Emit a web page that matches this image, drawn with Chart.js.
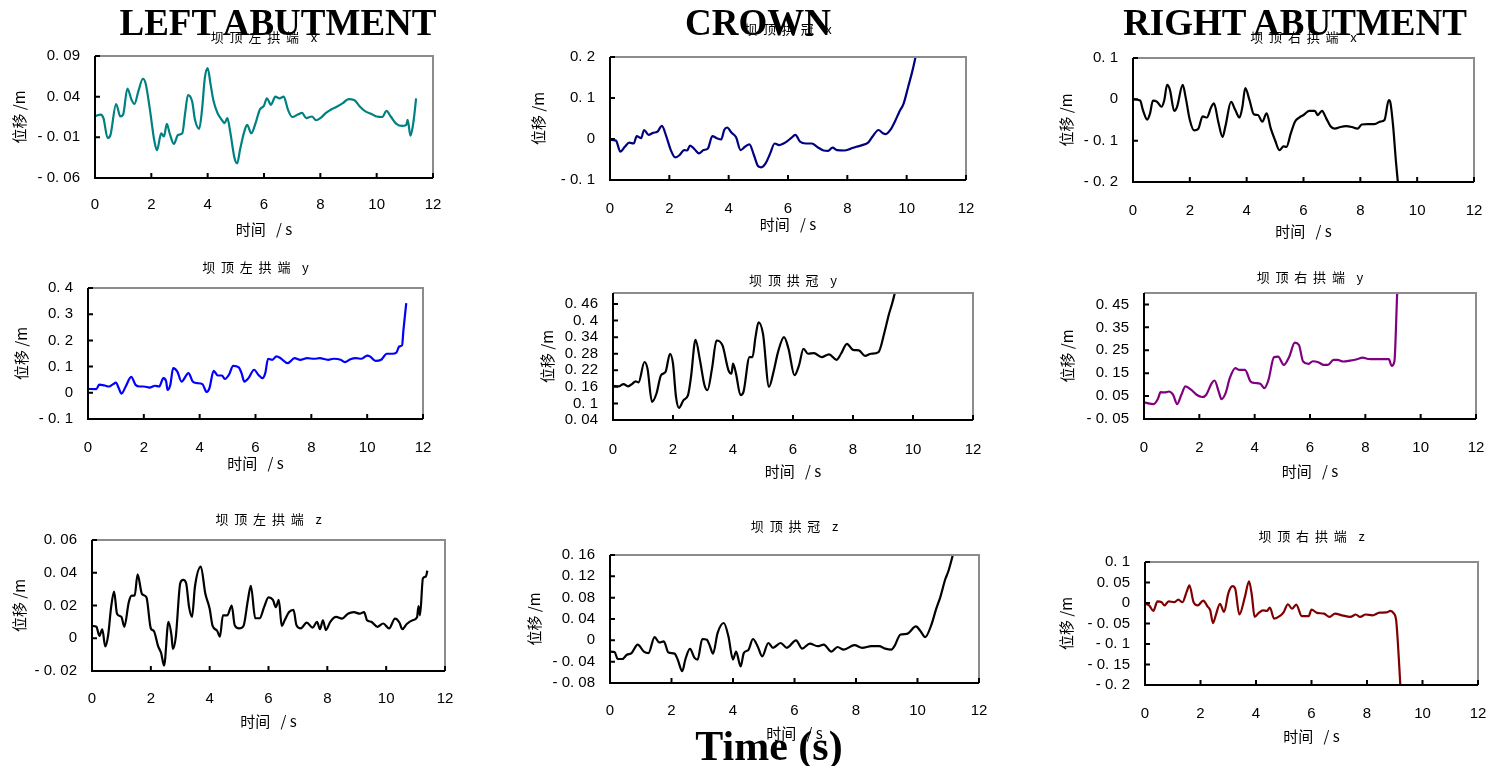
<!DOCTYPE html>
<html>
<head>
<meta charset="utf-8">
<script src="https://cdn.jsdelivr.net/npm/chart.js@4/dist/chart.umd.min.js"></script>
<style>
  html, body { margin: 0; padding: 0; background: #fff; }
  #stage { position: relative; width: 1488px; height: 766px; overflow: hidden; }
  #stage canvas { position: absolute; }
  .head {
    position: absolute; width: 500px; text-align: center; white-space: nowrap;
    font-family: "Liberation Serif", "Times New Roman", serif; font-weight: bold;
    font-size: 37px; line-height: 37px; color: #000; z-index: 5;
  }
</style>
</head>
<body>
<div id="stage">
  <div class="head" style="left:28px; top:4px;">LEFT ABUTMENT</div>
  <div class="head" style="left:508px; top:4px;">CROWN</div>
  <div class="head" style="left:1045px; top:4px;">RIGHT ABUTMENT</div>
  <div class="head" style="left:519px; top:725px; font-size:42px; line-height:42px;">Time (s)</div>
</div>
<script>
// ---- data (time in s, displacement in m) ----
const timeTicks = [0, 2, 4, 6, 8, 10, 12];

// left abutment x
const laXTime = [0,0.2,0.3,0.45,0.55,0.75,0.9,1.0,1.15,1.3,1.4,1.55,1.7,1.8,1.95,2.1,2.2,2.35,2.45,2.55,2.65,2.8,2.95,3.1,3.2,3.3,3.45,3.55,3.7,3.8,3.9,4.0,4.1,4.2,4.35,4.5,4.6,4.7,4.8,4.95,5.05,5.15,5.3,5.4,5.55,5.7,5.85,6.0,6.1,6.25,6.4,6.55,6.7,6.85,7.0,7.2,7.35,7.5,7.7,7.85,8.0,8.2,8.4,8.6,8.8,9.0,9.2,9.4,9.6,9.8,10.0,10.2,10.35,10.5,10.7,10.9,11.05,11.1,11.2,11.3,11.4];
const laXDisp = [0.016,0.018,0.0135,-0.011,-0.007,0.031,0.0156,0.018,0.050,0.036,0.031,0.048,0.062,0.056,0.024,-0.013,-0.026,-0.005,-0.009,0.0066,-0.005,-0.018,-0.007,-0.005,0.0197,0.042,0.034,0.0115,0.0005,0.024,0.063,0.075,0.056,0.036,0.0197,0.0115,0.0075,0.0136,-0.003,-0.035,-0.042,-0.025,-0.003,0.0054,-0.005,0.0075,0.024,0.029,0.038,0.030,0.040,0.038,0.040,0.024,0.015,0.018,0.020,0.0136,0.0156,0.011,0.0136,0.020,0.0246,0.028,0.032,0.037,0.036,0.028,0.022,0.019,0.0156,0.015,0.0226,0.0156,0.0066,0.004,0.0054,0.0115,-0.008,0.0075,0.038];
const laXTicks = [-0.06, -0.01, 0.04, 0.09];

// crown x
const crXTime = [0,0.2,0.35,0.5,0.65,0.8,0.9,1.05,1.15,1.3,1.45,1.6,1.75,1.9,2.05,2.2,2.35,2.5,2.6,2.7,2.85,3.0,3.15,3.3,3.45,3.6,3.75,3.85,3.95,4.1,4.25,4.4,4.55,4.7,4.85,5.0,5.1,5.25,5.4,5.55,5.7,5.85,6.0,6.1,6.25,6.4,6.6,6.8,7.0,7.2,7.35,7.5,7.65,7.9,8.1,8.3,8.5,8.7,8.85,9.05,9.2,9.3,9.45,9.6,9.75,9.9,10.05,10.2,10.3];
const crXDisp = [-0.002,-0.004,-0.031,-0.019,-0.009,-0.011,0.007,0.002,0.022,0.010,0.015,0.018,0.032,0.006,-0.027,-0.045,-0.039,-0.027,-0.028,-0.016,-0.025,-0.035,-0.027,-0.023,0.007,0.002,-0.001,0.022,0.028,0.015,0.004,-0.027,-0.019,-0.013,-0.039,-0.067,-0.069,-0.059,-0.035,-0.011,-0.015,-0.011,-0.004,0.002,0.010,-0.006,-0.011,-0.011,-0.020,-0.028,-0.029,-0.021,-0.027,-0.028,-0.024,-0.019,-0.015,-0.009,0.006,0.022,0.014,0.012,0.022,0.042,0.066,0.087,0.127,0.168,0.200];
const crXTicks = [-0.1, 0, 0.1, 0.2];

// right abutment x
const raXTime = [0,0.25,0.35,0.5,0.6,0.7,0.85,1.0,1.1,1.2,1.3,1.45,1.55,1.75,1.85,2.0,2.15,2.3,2.45,2.6,2.75,2.85,3.0,3.15,3.25,3.45,3.6,3.75,3.85,3.95,4.1,4.25,4.4,4.55,4.7,4.85,5.0,5.15,5.3,5.4,5.55,5.7,5.85,6.0,6.2,6.4,6.5,6.65,6.8,6.95,7.1,7.3,7.5,7.7,7.9,8.05,8.25,8.5,8.7,8.85,9.0,9.05,9.15,9.25,9.32];
const raXDisp = [0,-0.003,-0.026,-0.049,-0.034,-0.003,-0.006,-0.018,-0.002,0.035,0.023,-0.028,-0.018,0.035,0.006,-0.050,-0.075,-0.071,-0.041,-0.044,-0.019,-0.010,-0.054,-0.091,-0.066,-0.006,-0.026,-0.044,-0.018,0.027,-0.002,-0.036,-0.038,-0.054,-0.034,-0.071,-0.099,-0.123,-0.114,-0.115,-0.083,-0.054,-0.044,-0.038,-0.028,-0.028,-0.038,-0.028,-0.046,-0.065,-0.071,-0.067,-0.065,-0.067,-0.071,-0.061,-0.060,-0.060,-0.054,-0.050,-0.002,-0.006,-0.062,-0.148,-0.200];
const raXTicks = [-0.2, -0.1, 0, 0.1];

// left abutment y
const laYTime = [0,0.3,0.4,0.6,0.75,0.9,1.0,1.1,1.2,1.35,1.55,1.7,1.85,2.0,2.2,2.4,2.55,2.7,2.8,2.85,2.95,3.05,3.2,3.35,3.6,3.75,3.9,4.1,4.25,4.35,4.5,4.65,4.8,4.9,5.05,5.2,5.4,5.5,5.6,5.75,5.95,6.1,6.25,6.35,6.45,6.6,6.75,6.9,7.15,7.4,7.6,7.85,8.1,8.3,8.6,8.8,9.05,9.2,9.4,9.6,9.8,10.0,10.1,10.3,10.5,10.7,10.9,11.05,11.15,11.25,11.3,11.4];
const laYDisp = [0.015,0.014,0.031,0.028,0.024,0.033,0.039,0.018,-0.003,0.024,0.061,0.031,0.024,0.024,0.020,0.027,0.024,0.056,0.043,0.011,0.031,0.094,0.081,0.043,0.075,0.043,0.037,0.033,0.003,0.018,0.084,0.066,0.066,0.053,0.069,0.103,0.097,0.075,0.043,0.056,0.088,0.069,0.056,0.075,0.130,0.126,0.139,0.132,0.113,0.132,0.126,0.132,0.130,0.132,0.126,0.130,0.126,0.117,0.128,0.132,0.130,0.142,0.139,0.122,0.126,0.149,0.149,0.154,0.177,0.181,0.240,0.342];
const laYTicks = [-0.1, 0, 0.1, 0.2, 0.3, 0.4];

// crown y
const crYTime = [0,0.2,0.35,0.5,0.65,0.75,0.85,1.05,1.15,1.3,1.45,1.6,1.75,1.9,2.0,2.1,2.2,2.35,2.5,2.6,2.75,2.9,3.05,3.15,3.3,3.45,3.65,3.85,3.95,4.0,4.1,4.25,4.35,4.55,4.65,4.75,4.85,5.0,5.2,5.35,5.5,5.7,5.85,6.05,6.2,6.35,6.5,6.7,6.95,7.2,7.45,7.6,7.8,8.0,8.2,8.4,8.6,8.85,9.05,9.2,9.3,9.4];
const crYDisp = [0.164,0.162,0.170,0.162,0.172,0.180,0.176,0.250,0.226,0.106,0.136,0.202,0.214,0.280,0.244,0.124,0.084,0.112,0.130,0.196,0.330,0.256,0.166,0.148,0.226,0.328,0.310,0.220,0.208,0.244,0.208,0.130,0.142,0.268,0.268,0.340,0.394,0.352,0.160,0.214,0.286,0.340,0.298,0.202,0.238,0.298,0.280,0.282,0.268,0.278,0.258,0.280,0.316,0.294,0.292,0.272,0.280,0.286,0.358,0.424,0.46,0.502];
const crYTicks = [0.04, 0.1, 0.16, 0.22, 0.28, 0.34, 0.4, 0.46];

// right abutment y
const raYTime = [0,0.35,0.5,0.6,0.75,0.9,1.05,1.2,1.35,1.5,1.7,1.9,2.1,2.25,2.45,2.55,2.7,2.8,2.95,3.1,3.3,3.45,3.65,3.85,4.0,4.2,4.35,4.5,4.7,4.85,5.05,5.25,5.45,5.6,5.75,5.95,6.1,6.3,6.5,6.65,6.85,7.0,7.2,7.45,7.7,7.9,8.1,8.4,8.7,8.85,8.95,9.05,9.15];
const raYDisp = [0.0225,0.015,0.037,0.067,0.066,0.070,0.056,0.015,0.056,0.092,0.078,0.056,0.046,0.056,0.107,0.118,0.070,0.037,0.063,0.128,0.172,0.164,0.164,0.114,0.107,0.104,0.085,0.121,0.220,0.222,0.186,0.222,0.283,0.273,0.201,0.191,0.202,0.198,0.186,0.186,0.208,0.208,0.201,0.205,0.211,0.218,0.212,0.211,0.211,0.211,0.182,0.201,0.498];
const raYTicks = [-0.05, 0.05, 0.15, 0.25, 0.35, 0.45];

// left abutment z
const laZTime = [0,0.15,0.25,0.35,0.45,0.55,0.65,0.75,0.85,1.0,1.1,1.25,1.35,1.45,1.55,1.7,1.85,2.0,2.1,2.25,2.35,2.45,2.6,2.7,2.75,2.85,3.0,3.1,3.2,3.3,3.4,3.5,3.7,3.85,4.0,4.1,4.25,4.35,4.45,4.6,4.75,4.85,5.0,5.15,5.3,5.4,5.55,5.7,5.85,6.0,6.15,6.25,6.35,6.45,6.55,6.7,6.85,6.95,7.1,7.3,7.5,7.65,7.75,7.85,7.95,8.1,8.3,8.5,8.7,8.9,9.1,9.25,9.35,9.5,9.7,9.9,10.1,10.3,10.45,10.55,10.7,10.9,11.05,11.1,11.15,11.25,11.35,11.4];
const laZDisp = [0.0075,0.007,0.0014,0.0055,-0.005,0.002,0.019,0.0285,0.015,0.013,0.007,0.022,0.026,0.026,0.039,0.027,0.025,0.006,0.0045,-0.005,-0.009,-0.0167,0.010,0.002,-0.0065,0.001,0.0336,0.0356,0.0336,0.019,0.013,0.0316,0.0438,0.0275,0.018,0.0075,0.0047,0.001,0.014,0.014,0.020,0.008,0.006,0.0075,0.0234,0.032,0.0122,0.0122,0.019,0.025,0.0234,0.019,0.0234,0.0075,0.011,0.016,0.0173,0.008,0.006,0.0096,0.0065,0.010,0.0055,0.011,0.005,0.010,0.013,0.012,0.015,0.016,0.015,0.016,0.011,0.010,0.007,0.009,0.006,0.012,0.0096,0.0055,0.0087,0.011,0.0128,0.0197,0.014,0.0366,0.0377,0.0413];
const laZTicks = [-0.02, 0, 0.02, 0.04, 0.06];

// crown z
const crZTime = [0,0.15,0.25,0.4,0.55,0.7,0.9,1.1,1.25,1.45,1.6,1.75,1.9,2.1,2.2,2.35,2.45,2.6,2.75,2.85,3.0,3.15,3.25,3.35,3.5,3.7,3.85,4.0,4.1,4.25,4.35,4.5,4.65,4.8,4.95,5.15,5.3,5.55,5.75,6.05,6.25,6.5,6.75,6.95,7.2,7.4,7.6,7.95,8.2,8.5,8.75,8.95,9.15,9.25,9.45,9.65,9.95,10.1,10.25,10.45,10.6,10.75,10.9,11.0,11.15];
const crZDisp = [-0.021,-0.022,-0.035,-0.035,-0.027,-0.024,-0.008,-0.021,-0.024,0.006,-0.004,-0.002,-0.023,-0.025,-0.036,-0.058,-0.036,-0.016,-0.033,-0.036,0.0025,0.001,-0.011,-0.025,0.014,0.0325,0.0075,-0.036,-0.021,-0.049,-0.024,-0.018,0.0025,-0.011,-0.030,-0.005,-0.014,-0.005,-0.014,0,-0.0156,-0.006,-0.011,-0.008,-0.021,-0.0125,-0.0175,-0.009,-0.014,-0.011,-0.011,-0.0156,-0.0175,-0.011,0.011,0.012,0.026,0.017,0.006,0.029,0.0575,0.0825,0.114,0.129,0.16];
const crZTicks = [-0.08, -0.04, 0, 0.04, 0.08, 0.12, 0.16];

// right abutment z
const raZTime = [0,0.15,0.3,0.45,0.6,0.7,0.85,1.05,1.2,1.35,1.5,1.6,1.75,1.9,2.1,2.25,2.35,2.45,2.55,2.7,2.85,3.0,3.15,3.25,3.4,3.6,3.75,3.85,3.95,4.1,4.25,4.4,4.5,4.65,4.85,5.0,5.15,5.3,5.45,5.65,5.9,6.0,6.2,6.45,6.65,6.85,7.1,7.4,7.6,7.75,7.95,8.2,8.45,8.7,8.85,8.95,9.05,9.15,9.2];
const raZDisp = [-0.002,-0.006,-0.019,0.004,0.002,-0.006,0.004,0.002,0.008,0.002,0.027,0.043,0.002,-0.006,0.006,-0.008,-0.018,-0.049,-0.030,-0.002,-0.022,0.023,0.041,0.035,-0.028,0.015,0.053,0.019,-0.034,-0.024,-0.018,-0.019,-0.011,-0.038,-0.032,-0.022,-0.003,-0.014,-0.004,-0.032,-0.032,-0.016,-0.024,-0.026,-0.034,-0.026,-0.030,-0.034,-0.028,-0.034,-0.028,-0.030,-0.0235,-0.023,-0.019,-0.024,-0.042,-0.139,-0.200];
const raZTicks = [-0.2, -0.15, -0.1, -0.05, 0, 0.05, 0.1];

// ---- panels ----
const CJK = '"Noto Sans CJK SC", "Noto Sans", sans-serif';
const NUM = '"Liberation Sans", Arial, sans-serif';

const panels = [
  { title: '坝  顶  左  拱  端    x', time: laXTime, disp: laXDisp, yTicks: laXTicks, yMax: 0.09, color: '#008080',
    plot: [95, 56, 433, 178], titleY: 37, tickY: 203, xTitleY: 229, yTitleX: 19 },
  { title: '坝  顶  拱  冠    x', time: crXTime, disp: crXDisp, yTicks: crXTicks, yMax: 0.2, color: '#000080',
    plot: [610, 57, 966, 180], titleY: 29, tickY: 207, xTitleY: 224, yTitleX: 538 },
  { title: '坝  顶  右  拱  端    x', time: raXTime, disp: raXDisp, yTicks: raXTicks, yMax: 0.1, color: '#000000',
    plot: [1133, 58, 1474, 182], titleY: 37, tickY: 209, xTitleY: 231, yTitleX: 1066 },
  { title: '坝  顶  左  拱  端    y', time: laYTime, disp: laYDisp, yTicks: laYTicks, yMax: 0.4, color: '#0000ff',
    plot: [88, 288, 423, 419], titleY: 267, tickY: 446, xTitleY: 463, yTitleX: 21 },
  { title: '坝  顶  拱  冠    y', time: crYTime, disp: crYDisp, yTicks: crYTicks, yMax: 0.5, color: '#000000',
    plot: [613, 292, 973, 420], titleY: 279, tickY: 448, xTitleY: 471, yTitleX: 547 },
  { title: '坝  顶  右  拱  端    y', time: raYTime, disp: raYDisp, yTicks: raYTicks, yMax: 0.5, color: '#800080',
    plot: [1144, 293, 1476, 419], titleY: 277, tickY: 446, xTitleY: 471, yTitleX: 1067 },
  { title: '坝  顶  左  拱  端    z', time: laZTime, disp: laZDisp, yTicks: laZTicks, yMax: 0.06, color: '#000000',
    plot: [92, 540, 445, 671], titleY: 519, tickY: 697, xTitleY: 721, yTitleX: 19 },
  { title: '坝  顶  拱  冠    z', time: crZTime, disp: crZDisp, yTicks: crZTicks, yMax: 0.16, color: '#000000',
    plot: [610, 555, 979, 683], titleY: 526, tickY: 709, xTitleY: 733, yTitleX: 534 },
  { title: '坝  顶  右  拱  端    z', time: raZTime, disp: raZDisp, yTicks: raZTicks, yMax: 0.1, color: '#800000',
    plot: [1145, 562, 1478, 685], titleY: 536, tickY: 712, xTitleY: 736, yTitleX: 1066 },
];

// "0. 09" / "- 0. 06" style labels like the original
function fmtTick(v) {
  return String(v).replace('-', '- ').replace('.', '. ');
}

// gray top/right frame, black left/bottom axes, ticks pointing inward
const framePlugin = {
  id: 'frame',
  afterDatasetsDraw(chart) {
    const { ctx, chartArea: a, scales } = chart;
    ctx.save();
    ctx.lineWidth = 2;
    ctx.strokeStyle = '#8c8c8c';
    ctx.beginPath();
    ctx.moveTo(a.left, a.top);
    ctx.lineTo(a.right, a.top);
    ctx.lineTo(a.right, a.bottom);
    ctx.stroke();
    ctx.strokeStyle = '#000';
    ctx.beginPath();
    ctx.moveTo(a.left, a.top);
    ctx.lineTo(a.left, a.bottom);
    ctx.lineTo(a.right, a.bottom);
    scales.x.ticks.forEach(t => {
      const px = scales.x.getPixelForValue(t.value);
      ctx.moveTo(px, a.bottom);
      ctx.lineTo(px, a.bottom - 5);
    });
    scales.y.ticks.forEach(t => {
      const py = scales.y.getPixelForValue(t.value);
      ctx.moveTo(a.left, py);
      ctx.lineTo(a.left + 5, py);
    });
    ctx.stroke();
    ctx.restore();
  }
};

const stage = document.getElementById('stage');
const RIGHT_PAD = 40; // larger than the x scale's own label overflow

function buildPanel(p) {
  const [l, t, r, b] = p.plot;
  const cl = Math.round(p.yTitleX - 10);
  const ct = Math.round(p.titleY - 10);
  const cr = r + RIGHT_PAD;
  const cb = Math.round(p.xTitleY + 10);

  const canvas = document.createElement('canvas');
  canvas.width = cr - cl;
  canvas.height = cb - ct;
  canvas.style.left = cl + 'px';
  canvas.style.top = ct + 'px';
  canvas.style.width = (cr - cl) + 'px';
  canvas.style.height = (cb - ct) + 'px';
  stage.appendChild(canvas);

  const titlePadTop = p.titleY - 7.8 - ct;
  const titlePadBottom = (t - ct) - 15.6 - titlePadTop;

  new Chart(canvas.getContext('2d'), {
    type: 'line',
    data: {
      datasets: [{
        data: p.time.map((x, i) => ({ x: x, y: p.disp[i] })),
        borderColor: p.color,
        borderWidth: 2.2,
        pointRadius: 0,
        cubicInterpolationMode: 'monotone',
        fill: false
      }]
    },
    options: {
      responsive: false,
      animation: false,
      events: [],
      layout: { padding: { left: 0, top: 0, right: RIGHT_PAD, bottom: 0 } },
      plugins: {
        legend: { display: false },
        tooltip: { enabled: false },
        title: {
          display: true,
          text: p.title,
          fullSize: false,
          color: '#000',
          font: { family: CJK, size: 13, weight: 'normal', lineHeight: 1.2 },
          padding: { top: titlePadTop, bottom: titlePadBottom }
        }
      },
      scales: {
        x: {
          type: 'linear',
          min: 0,
          max: 12,
          grid: { display: false, drawTicks: false },
          border: { display: false },
          afterBuildTicks: s => { s.ticks = timeTicks.map(v => ({ value: v })); },
          afterFit: s => { s.height = cb - b; },
          ticks: {
            autoSkip: false, maxRotation: 0,
            padding: p.tickY - b - 7.5,
            color: '#000',
            font: { family: NUM, size: 15 }
          },
          title: {
            display: true,
            text: '时间   / s',
            color: '#000',
            font: { family: CJK, size: 15, lineHeight: 1.2 },
            padding: { top: 0, bottom: cb - 9 - p.xTitleY }
          }
        },
        y: {
          type: 'linear',
          min: p.yTicks[0],
          max: p.yMax,
          grid: { display: false, drawTicks: false },
          border: { display: false },
          afterBuildTicks: s => { s.ticks = p.yTicks.map(v => ({ value: v })); },
          afterFit: s => { s.width = l - cl; },
          ticks: {
            autoSkip: false,
            padding: 15,
            color: '#000',
            font: { family: NUM, size: 15 },
            callback: v => fmtTick(v)
          },
          title: {
            display: true,
            text: '位移 /m',
            color: '#000',
            font: { family: CJK, size: 15, lineHeight: 1.2 },
            padding: { top: p.yTitleX - cl - 9, bottom: 0 }
          }
        }
      }
    },
    plugins: [framePlugin]
  });
}

panels.forEach(buildPanel);
</script>
</body>
</html>
